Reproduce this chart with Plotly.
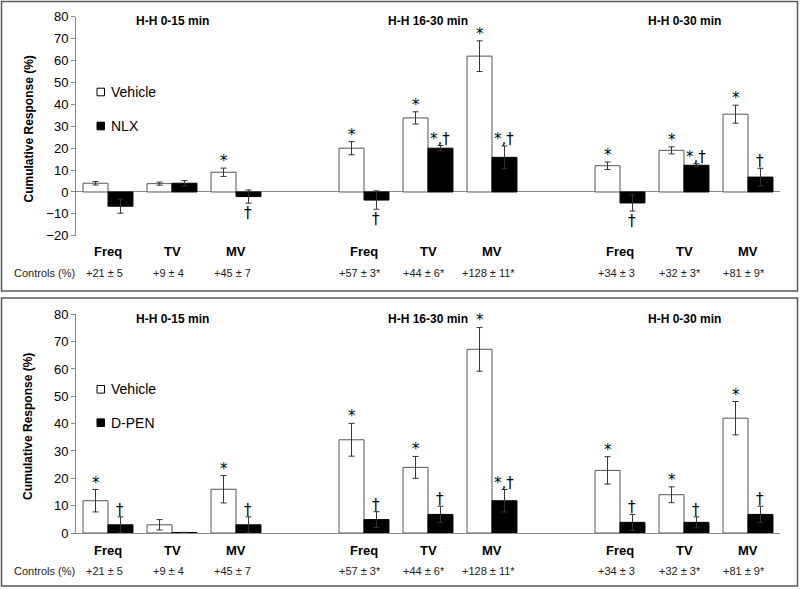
import plotly.graph_objects as go

# ---------------- data ----------------
groups = ["H-H 0-15 min", "H-H 16-30 min", "H-H 0-30 min"]
params = ["Freq", "TV", "MV"]
controls = ["+21 ± 5", "+9 ± 4", "+45 ± 7",
            "+57 ± 3*", "+44 ± 6*", "+128 ± 11*",
            "+34 ± 3", "+32 ± 3*", "+81 ± 9*"]

# top panel: Vehicle vs NLX
top_vehicle = [4.0, 3.8, 9.0, 20.0, 33.8, 62.0, 12.0, 19.0, 35.5]
top_vehicle_err = [0.8, 0.7, 1.9, 3.0, 2.8, 7.0, 1.7, 1.6, 4.1]
top_nlx = [-6.5, 4.0, -2.1, -3.7, 20.0, 15.8, -5.0, 12.2, 6.8]
top_nlx_err = [3.2, 1.2, 3.0, 4.2, 1.2, 5.2, 3.7, 0.7, 4.0]
top_vehicle_sig = ["", "", "*", "*", "*", "*", "*", "*", "*"]
top_nlx_sig = ["", "", "†", "†", "*,†", "*,†", "†", "*,†", "†"]

# bottom panel: Vehicle vs D-PEN
bot_vehicle = [11.8, 3.0, 16.0, 34.1, 24.0, 67.2, 22.9, 14.0, 42.0]
bot_vehicle_err = [4.1, 1.9, 5.0, 6.0, 4.0, 8.0, 5.0, 2.9, 6.1]
bot_dpen = [3.0, 0.2, 3.0, 4.9, 6.8, 11.8, 3.9, 3.9, 6.8]
bot_dpen_err = [2.9, 0.0, 2.9, 2.9, 3.0, 4.1, 2.9, 2.0, 3.0]
bot_vehicle_sig = ["*", "", "*", "*", "*", "*", "*", "*", "*"]
bot_dpen_sig = ["†", "", "†", "†", "†", "*,†", "†", "†", "†"]

top_ticks = [-20, -10, 0, 10, 20, 30, 40, 50, 60, 70, 80]
bot_ticks = [0, 10, 20, 30, 40, 50, 60, 70, 80]

# slot positions: 3 params per group, one empty slot between groups
xpos = [g * 4 + p for g in range(3) for p in range(3)]

W, H = 800, 590
FONT = "Liberation Sans, Arial, sans-serif"


def py(px):
    return 1 - px / H


def px_x(px):
    return px / W


fig = go.Figure()

err_style = dict(type="data", visible=True, color="#333333", thickness=1, width=3)

fig.add_trace(go.Bar(x=xpos, y=top_vehicle, name="Vehicle",
                     marker=dict(color="white", line=dict(color="#555555", width=1)),
                     error_y=dict(array=top_vehicle_err, **err_style),
                     xaxis="x", yaxis="y", showlegend=False))
fig.add_trace(go.Bar(x=xpos, y=top_nlx, name="NLX",
                     marker=dict(color="black", line=dict(color="black", width=1)),
                     error_y=dict(array=top_nlx_err, **err_style),
                     xaxis="x", yaxis="y", showlegend=False))
fig.add_trace(go.Bar(x=xpos, y=bot_vehicle, name="Vehicle",
                     marker=dict(color="white", line=dict(color="#555555", width=1)),
                     error_y=dict(array=bot_vehicle_err, **err_style),
                     xaxis="x2", yaxis="y2", showlegend=False))
fig.add_trace(go.Bar(x=xpos, y=bot_dpen, name="D-PEN",
                     marker=dict(color="black", line=dict(color="black", width=1)),
                     error_y=dict(array=bot_dpen_err, **err_style),
                     xaxis="x2", yaxis="y2", showlegend=False))

xdom = [76 / W, 780 / W]
top_dom = [py(235.8), py(16.7)]
bot_dom = [py(533), py(314.3)]

axis_common = dict(showgrid=False, ticks="outside", ticklen=4, tickcolor="#888888",
                   showline=True, linecolor="#888888", linewidth=1, automargin=False,
                   tickfont=dict(family=FONT, size=13, color="black"))

fig.update_layout(
    template="none",
    width=W, height=H, autosize=False,
    margin=dict(l=0, r=0, t=0, b=0, pad=0),
    paper_bgcolor="white", plot_bgcolor="white",
    barmode="group", bargap=0.22, bargroupgap=0,
    xaxis=dict(domain=xdom, range=[-0.5, 10.5], showticklabels=False, showgrid=False,
               zeroline=False, showline=False, ticks="", anchor="y", automargin=False),
    yaxis=dict(domain=top_dom, range=[-20, 80], tickvals=top_ticks,
               zeroline=True, zerolinecolor="#888888", zerolinewidth=1,
               anchor="x", **axis_common),
    xaxis2=dict(domain=xdom, range=[-0.5, 10.5], showticklabels=False, showgrid=False,
                zeroline=False, showline=True, linecolor="#888888", linewidth=1,
                ticks="", anchor="y2", automargin=False),
    yaxis2=dict(domain=bot_dom, range=[0, 80], tickvals=bot_ticks,
                zeroline=False, anchor="x2", **axis_common),
)

ann = []
shapes = []

# panel frames
for (t, b) in [(1.5, 291), (298, 586)]:
    shapes.append(dict(type="rect", xref="paper", yref="paper",
                       x0=1.5 / W, x1=797.5 / W, y0=py(b), y1=py(t),
                       line=dict(color="#595959", width=1.5), fillcolor="rgba(0,0,0,0)"))

half = 0.195
panels = [
    dict(xr="x", yr="y", veh=top_vehicle, veh_e=top_vehicle_err, trt=top_nlx, trt_e=top_nlx_err,
         vs=top_vehicle_sig, ts=top_nlx_sig, title_y=21, cat_y=251, ctrl_y=273,
         ylab_y=129.5, leg=[("Vehicle", 92, "white"), ("NLX", 126, "black")]),
    dict(xr="x2", yr="y2", veh=bot_vehicle, veh_e=bot_vehicle_err, trt=bot_dpen, trt_e=bot_dpen_err,
         vs=bot_vehicle_sig, ts=bot_dpen_sig, title_y=319, cat_y=550, ctrl_y=571,
         ylab_y=427, leg=[("Vehicle", 389.3, "white"), ("D-PEN", 422.7, "black")]),
]

sig_font = dict(family="DejaVu Sans, " + FONT, size=15, color="black")

for P in panels:
    # group titles
    for g, name in enumerate(groups):
        ann.append(dict(xref=P["xr"], yref="paper", x=g * 4 + 1, y=py(P["title_y"]),
                        text="<b>%s</b>" % name, showarrow=False,
                        xanchor="center", yanchor="middle",
                        font=dict(family=FONT, size=12, color="black")))
    # category labels and controls
    for i, xp in enumerate(xpos):
        ann.append(dict(xref=P["xr"], yref="paper", x=xp, y=py(P["cat_y"]),
                        text="<b>%s</b>" % params[i % 3], showarrow=False,
                        xanchor="center", yanchor="middle",
                        font=dict(family=FONT, size=13, color="black")))
        ann.append(dict(xref=P["xr"], yref="paper", x=xp, y=py(P["ctrl_y"]), xshift=-4,
                        text=controls[i], showarrow=False,
                        xanchor="center", yanchor="middle",
                        font=dict(family=FONT, size=11, color="#222222")))
    ann.append(dict(xref="paper", yref="paper", x=px_x(12), y=py(P["ctrl_y"]),
                    xanchor="left", yanchor="middle", text="Controls (%)", showarrow=False,
                    font=dict(family=FONT, size=11, color="#222222")))
    # y-axis title
    ann.append(dict(xref="paper", yref="paper", x=px_x(28), y=py(P["ylab_y"]),
                    xanchor="center", yanchor="middle",
                    text="<b>Cumulative Response (%)</b>", textangle=-90, showarrow=False,
                    font=dict(family=FONT, size=12, color="black")))
    # legend
    for label, cy, col in P["leg"]:
        shapes.append(dict(type="rect", xref="paper", yref="paper",
                           x0=px_x(97), x1=px_x(104.5), y0=py(cy + 3.8), y1=py(cy - 3.8),
                           fillcolor=col, line=dict(color="black", width=1)))
        ann.append(dict(xref="paper", yref="paper", x=px_x(109), y=py(cy), xanchor="left",
                        yanchor="middle", text=label, showarrow=False,
                        font=dict(family=FONT, size=14, color="black")))
    # significance marks
    for i, xp in enumerate(xpos):
        for vals, errs, sigs, off in [(P["veh"], P["veh_e"], P["vs"], -half),
                                      (P["trt"], P["trt_e"], P["ts"], half)]:
            s = sigs[i]
            if not s:
                continue
            v, e = vals[i], errs[i]
            if v >= 0:
                ann.append(dict(xref=P["xr"], yref=P["yr"], x=xp + off, y=v + e,
                                text=s, showarrow=False, xanchor="center",
                                yanchor="bottom", yshift=-4, font=sig_font))
            else:
                ann.append(dict(xref=P["xr"], yref=P["yr"], x=xp + off, y=v - e,
                                text=s, showarrow=False, xanchor="center",
                                yanchor="top", yshift=1, font=sig_font))

fig.update_layout(annotations=ann, shapes=shapes)
fig.write_html("out.html", config={"displayModeBar": False},
               post_script="document.body.style.margin='0px';")
